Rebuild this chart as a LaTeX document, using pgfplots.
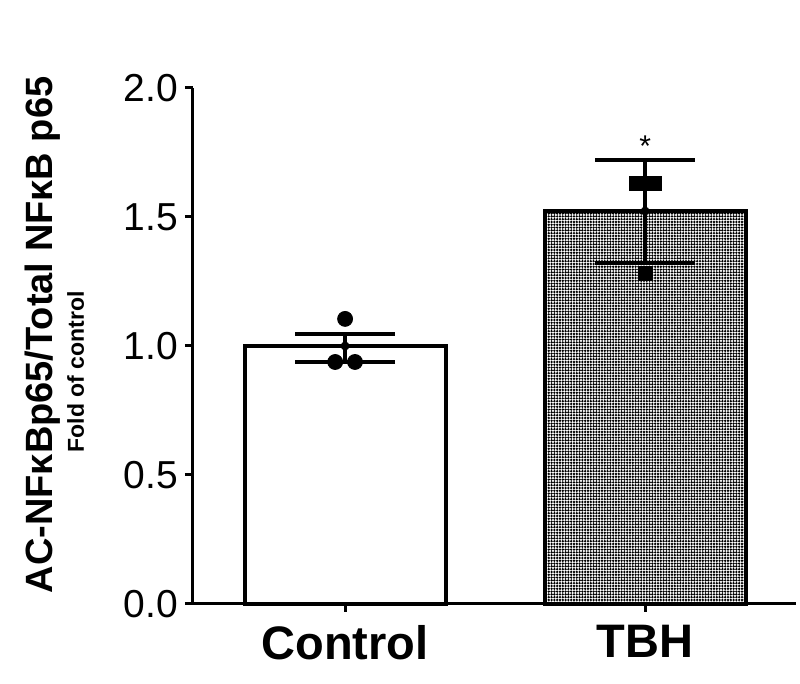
\documentclass[border=0pt]{standalone}
\usepackage{pgfplots}
\pgfplotsset{compat=1.18}
\usepackage{fontspec}
\setmainfont{Liberation Sans}
\usetikzlibrary{patterns.meta}

\begin{document}
\begin{tikzpicture}
\begin{axis}[
    scale only axis,
    width=301.5pt, height=258pt,
    xmin=-0.507, xmax=1.503,
    ymin=0, ymax=2,
    axis x line=bottom, axis y line=left,
    axis line style={-, line width=1.5pt, black},
    tick align=outside,
    major tick length=4pt,
    tick style={line width=1.5pt, black},
    ytick={0,0.5,1,1.5,2},
    /pgf/number format/fixed,
    /pgf/number format/fixed zerofill,
    /pgf/number format/precision=1,
    /pgf/number format/assume math mode=true,
    yticklabel style={font=\fontsize{19.5}{20}\selectfont},
    xtick={0,1},
    xticklabels={Control,TBH},
    xticklabel style={font=\fontsize{23.5}{24}\selectfont\bfseries, yshift=-3pt},
    clip=false,
]
% bars
\addplot[ybar, bar shift=0pt, bar width=0.67, fill=white, draw=black, line width=2pt]
    coordinates {(0,1.0)};
\addplot[ybar, bar shift=0pt, bar width=0.67, pattern={Dots[distance=1.4pt, radius=0.65pt]}, pattern color=black, draw=black, line width=2pt]
    coordinates {(1,1.523)};
% error bars (mean +- SEM)
\addplot[black, only marks, mark=none,
    error bars/.cd, y dir=both, y explicit,
    error bar style={line width=2pt, black},
    error mark options={rotate=90, mark size=25pt, line width=2pt, black}]
    coordinates {(0,1.0) += (0,0.047) -= (0,0.062) (1,1.523) += (0,0.198) -= (0,0.201)};
% individual points
\addplot[only marks, mark=*, mark size=3.75pt, black]
    coordinates {(-0.033,0.938) (0.033,0.938) (0,1.105)};
\addplot[only marks, mark=square*, mark size=3.5pt, black]
    coordinates {(0.97,1.632) (1.03,1.632) (1,1.283)};
\draw[line width=1.5pt] (rel axis cs:0,0) -- ([xshift=-4pt]rel axis cs:0,0);
\node[anchor=base, font=\fontsize{15}{15}\selectfont] at (axis cs:1,1.735) {*};
\end{axis}
\node[rotate=90, anchor=base, font=\fontsize{19}{19}\selectfont\bfseries] at (-70pt,134.5pt) {AC-NFκBp65/Total NFκB p65};
\node[rotate=90, anchor=base, font=\fontsize{11.5}{11.5}\selectfont\bfseries] at (-54.5pt,116pt) {Fold of control};
\pgfresetboundingbox
\path (-96.5pt,-40pt) rectangle (303.5pt,302pt);
\end{tikzpicture}
\end{document}
